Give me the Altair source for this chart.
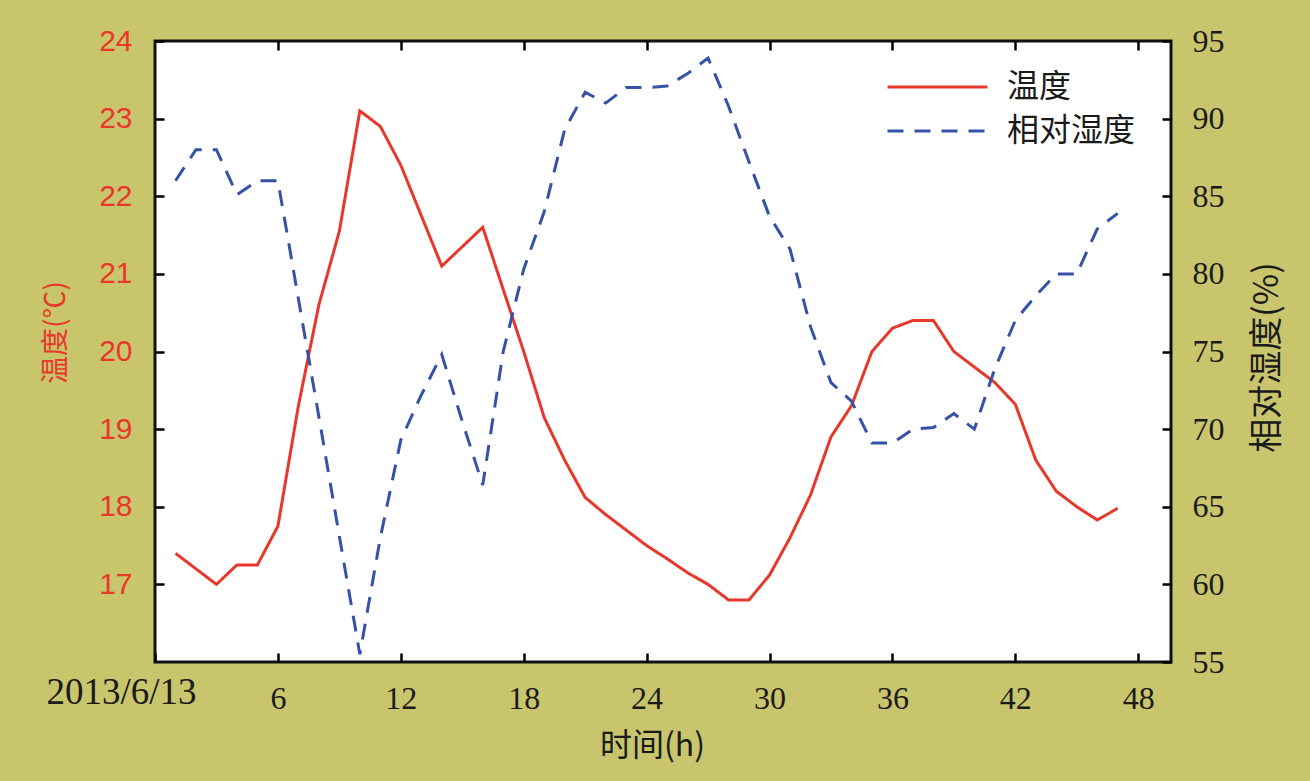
import altair as alt
import pandas as pd

hours = list(range(1, 48))
temperature = [17.4, 17.2, 17.0, 17.25, 17.25, 17.75, 19.3, 20.6, 21.55, 23.1,
               22.9, 22.4, 21.75, 21.1, 21.35, 21.6, 20.8, 20.0, 19.15, 18.6,
               18.12, 17.9, 17.7, 17.5, 17.33, 17.15, 17.0, 16.8, 16.8, 17.12,
               17.6, 18.15, 18.9, 19.3, 20.0, 20.3, 20.4, 20.4, 20.0, 19.8,
               19.6, 19.32, 18.6, 18.2, 18.0, 17.83, 17.98]
humidity = [86, 88, 88, 85.1, 86, 86, 78.4, 70.8, 63.1, 55.5,
            63, 69.3, 72.2, 74.8, 70.5, 66.4, 75, 80.3, 84, 89.3,
            91.7, 91, 92, 92, 92.1, 92.9, 93.9, 90.8, 87.2, 83.7,
            81.6, 76.6, 73, 71.8, 69.1, 69.1, 70, 70.1, 71, 70,
            73.9, 77, 78.6, 80, 80, 82.9, 83.9]
series_names = ["温度", "相对湿度"]
x_ticks = [0, 6, 12, 18, 24, 30, 36, 42, 48]
top_ticks = [6, 12, 18, 24, 30, 36, 42, 48]
temp_ticks = [17, 18, 19, 20, 21, 22, 23, 24]
hum_ticks = [55, 60, 65, 70, 75, 80, 85, 90, 95]
date_label = "2013/6/13"

df = pd.DataFrame({
    "hour": hours + hours,
    "series": [series_names[0]] * len(hours) + [series_names[1]] * len(hours),
    "value": temperature + humidity,
})

W, H = 1016, 621
RED = "#e8382c"
BLUE = "#3552a6"
DARK = "#1a1a1a"
TICK = "#000000"
CJK = "Noto Sans CJK SC"
TS = 9

color_scale = alt.Scale(domain=series_names, range=[RED, BLUE])
dash_scale = alt.Scale(domain=series_names, range=[[1, 0], [16, 11]])

legend = alt.Legend(
    orient="none", legendX=731, legendY=28, title=None, direction="vertical",
    symbolType="stroke", symbolSize=10000, symbolStrokeWidth=3,
    labelFont=CJK, labelFontSize=32, labelColor=DARK, labelOffset=18,
    clipHeight=36, rowPadding=8, padding=0,
)

x_bottom = alt.X(
    "hour:Q",
    scale=alt.Scale(domain=[0, 49.6], nice=False, zero=False),
    axis=alt.Axis(
        orient="bottom", values=x_ticks, offset=-TS, tickSize=TS, domain=False,
        grid=False, ticks=True, tickColor=TICK, tickWidth=2.5, tickOpacity=1,
        zindex=2,
        labelPadding=21, labelFont="Liberation Serif", labelFontSize={
            "condition": {"test": "datum.value == 0", "value": 37}, "value": 32},
        labelBaseline={"condition": {"test": "datum.value == 0", "value": "line-top"},
                       "value": "top"},
        labelLineHeight=19,
        labelColor=DARK, labelFlush=False, labelOverlap=False, labelBound=False,
        labelExpr=f"datum.value == 0 ? '{date_label}' : datum.label",
        labelOffset={"condition": {"test": "datum.value == 0", "value": -34}, "value": 0},
        title="时间(h)", titleFont=CJK, titleFontSize=32, titleFontWeight="normal",
        titleColor=DARK, titleX=497, titleY=92, titleAlign="center",
        titleBaseline="middle",
    ),
)

x_top = alt.X(
    "hour:Q",
    scale=alt.Scale(domain=[0, 49.6], nice=False, zero=False),
    axis=alt.Axis(
        orient="top", values=top_ticks, offset=-TS, tickSize=TS, domain=False,
        grid=False, ticks=True, tickColor=TICK, tickWidth=2.5, tickOpacity=1,
        zindex=2, labels=False, title=None,
    ),
)

temp_layer = alt.Chart(df).transform_filter(
    alt.datum.series == series_names[0]
).mark_line(strokeWidth=3, clip=True).encode(
    x=x_bottom,
    y=alt.Y(
        "value:Q",
        scale=alt.Scale(domain=[16, 24], nice=False, zero=False),
        axis=alt.Axis(
            orient="left", values=temp_ticks, offset=-TS, tickSize=TS, domain=False,
            grid=False, ticks=True, tickColor=TICK, tickWidth=2.5, tickOpacity=1,
            zindex=2,
            labelPadding=23, labelFont="Liberation Sans", labelFontSize=30,
            labelColor=RED,
            title="温度(℃)", titleFont=CJK, titleFontSize=28,
            titleFontWeight="normal", titleColor=RED, titleAngle=270,
            titleX=-108, titleY=291, titleAlign="center", titleBaseline="middle",
        ),
    ),
    color=alt.Color("series:N", scale=color_scale, legend=legend),
    strokeDash=alt.StrokeDash("series:N", scale=dash_scale, legend=legend),
)

hum_layer = alt.Chart(df).transform_filter(
    alt.datum.series == series_names[1]
).mark_line(strokeWidth=3, clip=True).encode(
    x=x_top,
    y=alt.Y(
        "value:Q",
        scale=alt.Scale(domain=[55, 95], nice=False, zero=False),
        axis=alt.Axis(
            orient="right", values=hum_ticks, offset=-TS, tickSize=TS, domain=False,
            grid=False, ticks=True, tickColor=TICK, tickWidth=2.5, tickOpacity=1,
            zindex=2,
            labelPadding=21, labelFont="Liberation Serif", labelFontSize=32,
            labelColor=DARK,
            title="相对湿度(%)", titleFont=CJK, titleFontSize=34,
            titleFontWeight="normal", titleColor=DARK, titleAngle=270,
            titleX=105, titleY=316, titleAlign="center", titleBaseline="middle",
        ),
    ),
    color=alt.Color("series:N", scale=color_scale, legend=legend),
    strokeDash=alt.StrokeDash("series:N", scale=dash_scale, legend=legend),
)

chart = alt.layer(temp_layer, hum_layer).resolve_scale(
    y="independent"
).resolve_axis(
    x="independent", y="independent"
).properties(
    width=W, height=H,
    autosize=alt.AutoSizeParams(type="none"),
    padding={"left": 155, "top": 41, "right": 139, "bottom": 119},
    background="#c9c56c",
).configure_view(
    fill="white", stroke="#111111", strokeWidth=3,
)

chart.save("out.html", embed_options={"renderer": "svg", "actions": False})
